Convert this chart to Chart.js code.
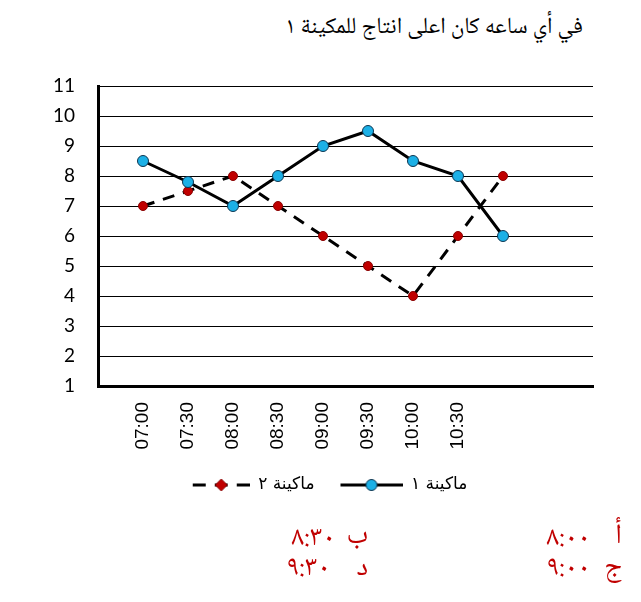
<!DOCTYPE html>
<html><head><meta charset="utf-8">
<script src="https://cdn.jsdelivr.net/npm/chart.js@4/dist/chart.umd.min.js"></script>
<style>
html,body{margin:0;padding:0;background:#fff;}
#wrap{position:relative;width:641px;height:602px;overflow:hidden;background:#fff;}
#c{position:absolute;left:0;top:0;}
.t{position:absolute;font-family:"Noto Naskh Arabic","Noto Sans Arabic","DejaVu Sans",sans-serif;white-space:nowrap;line-height:1;}
#title{right:58px;top:17px;font-size:23px;color:#000;direction:rtl;}
.ans{color:#c00000;font-size:28px;}
.tm{direction:ltr;letter-spacing:1px;}
</style></head>
<body><div id="wrap">
<div id="title" class="t">في أي ساعه كان اعلى انتاج للمكينة ١</div>
<canvas id="c" width="641" height="602"></canvas>
<div class="t ans" style="right:19px;top:523px">أ</div>
<div class="t ans tm" style="right:51px;top:525px;letter-spacing:4px">٨:٠٠</div>
<div class="t ans" style="right:273px;top:523px">ب</div>
<div class="t ans tm" style="right:306px;top:525px">٨:٣٠</div>
<div class="t ans" style="right:19px;top:555px">ج</div>
<div class="t ans tm" style="right:51px;top:555px;letter-spacing:3px">٩:٠٠</div>
<div class="t ans" style="right:273px;top:555px">د</div>
<div class="t ans tm" style="right:311px;top:555px">٩:٣٠</div>
</div>
<script>
const timeLabels = ['07:00','07:30','08:00','08:30','09:00','09:30','10:00','10:30'];
const machine1 = [8.5, 7.8, 7, 8, 9, 9.5, 8.5, 8, 6];
const machine2 = [7, 7.5, 8, 7, 6, 5, 4, 6, 8];
const seriesNames = ['ماكينة ١', 'ماكينة ٢'];
const yMin = 1, yMax = 11, yStep = 1;

const categories = [''].concat(timeLabels, ['', '', '']);
const data1 = [null].concat(machine1);
const data2 = [null].concat(machine2);

function legendImg(dashed, fill, stroke, r, lineLen) {
  const W = 78, H = 16;
  const c = document.createElement('canvas');
  c.width = W; c.height = H;
  const g = c.getContext('2d');
  g.strokeStyle = '#000'; g.lineWidth = 3;
  if (dashed) g.setLineDash([13, 9]);
  g.beginPath(); g.moveTo(W - lineLen, H / 2); g.lineTo(W, H / 2); g.stroke();
  g.setLineDash([]);
  const cx = W - lineLen / 2, cy = H / 2;
  g.fillStyle = fill; g.strokeStyle = stroke; g.lineWidth = 1;
  g.beginPath();
  if (dashed) {
    g.moveTo(cx, cy - r); g.lineTo(cx + r, cy); g.lineTo(cx, cy + r); g.lineTo(cx - r, cy); g.closePath();
  } else {
    g.arc(cx, cy, r, 0, Math.PI * 2);
  }
  g.fill(); g.stroke();
  return c;
}
const img1 = legendImg(false, '#1cb0e6', '#0d3550', 5.5, 62);
const img2 = legendImg(true, '#c00000', '#8a0000', 6, 57);

new Chart(document.getElementById('c'), {
  type: 'line',
  data: {
    labels: categories,
    datasets: [
      {
        label: seriesNames[0], data: data1,
        borderColor: '#000', borderWidth: 3, tension: 0, fill: false,
        pointRadius: 5.5, pointBackgroundColor: '#1cb0e6', pointBorderColor: '#0d3550', pointBorderWidth: 1
      },
      {
        label: seriesNames[1], data: data2,
        borderColor: '#000', borderWidth: 3, borderDash: [12, 9], tension: 0, fill: false,
        pointRadius: 4.5, pointBackgroundColor: '#c00000', pointBorderColor: '#8a0000', pointBorderWidth: 1
      }
    ]
  },
  options: {
    responsive: false, animation: false,
    layout: { padding: { left: 46, right: 48, top: 86, bottom: 98.5 } },
    plugins: {
      title: { display: false },
      tooltip: { enabled: false },
      legend: {
        position: 'bottom', reverse: true,
        labels: {
          usePointStyle: true, pointStyleWidth: 78, padding: 10, color: '#000',
          font: { family: 'DejaVu Sans', size: 17 },
          generateLabels(chart) {
            const items = Chart.defaults.plugins.legend.labels.generateLabels(chart);
            items.forEach(it => { it.pointStyle = it.datasetIndex === 0 ? img1 : img2; });
            return items;
          }
        }
      }
    },
    scales: {
      x: {
        type: 'category',
        grid: { display: false, drawTicks: false },
        border: { display: true, color: '#000', width: 3 },
        ticks: { autoSkip: false, minRotation: 90, maxRotation: 90, padding: 16, color: '#000',
                 font: { family: 'Liberation Sans', size: 19 } },
        afterFit(s) { s.height = 80.5; }
      },
      y: {
        min: yMin, max: yMax,
        grid: { color: '#000', lineWidth: 1, drawTicks: false },
        border: { display: true, color: '#000', width: 3 },
        ticks: { stepSize: yStep, padding: 23, color: '#000', font: { family: 'Lato', size: 19 } },
        afterFit(s) { s.width = 52; }
      }
    }
  }
});
</script>
</body></html>
